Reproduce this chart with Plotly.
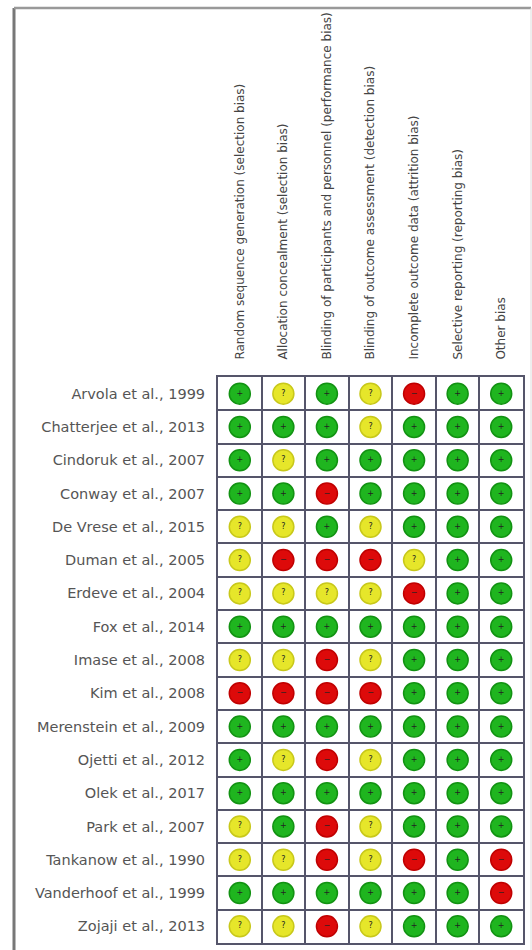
import plotly.graph_objects as go

W, H = 532, 950

domains = [
    "Random sequence generation (selection bias)",
    "Allocation concealment (selection bias)",
    "Blinding of participants and personnel (performance bias)",
    "Blinding of outcome assessment (detection bias)",
    "Incomplete outcome data (attrition bias)",
    "Selective reporting (reporting bias)",
    "Other bias",
]

studies = [
    "Arvola et al., 1999",
    "Chatterjee et al., 2013",
    "Cindoruk et al., 2007",
    "Conway et al., 2007",
    "De Vrese et al., 2015",
    "Duman et al., 2005",
    "Erdeve et al., 2004",
    "Fox et al., 2014",
    "Imase et al., 2008",
    "Kim et al., 2008",
    "Merenstein et al., 2009",
    "Ojetti et al., 2012",
    "Olek et al., 2017",
    "Park et al., 2007",
    "Tankanow et al., 1990",
    "Vanderhoof et al., 1999",
    "Zojaji et al., 2013",
]

# L = low risk (+), U = unclear (?), H = high risk (-)
judgements = [
    "LULUHLL",
    "LLLULLL",
    "LULLLLL",
    "LLHLLLL",
    "UULULLL",
    "UHHHULL",
    "UUUUHLL",
    "LLLLLLL",
    "UUHULLL",
    "HHHHLLL",
    "LLLLLLL",
    "LUHULLL",
    "LLLLLLL",
    "ULHULLL",
    "UUHUHLH",
    "LLLLLLH",
    "UUHULLL",
]

colors = {"L": "#1fb51f", "U": "#e6e62a", "H": "#dd0a0a"}
edges = {"L": "#129212", "U": "#c8c81a", "H": "#c00000"}
symbols = {"L": "+", "U": "?", "H": "\u2212"}

fig = go.Figure()
for level in ["L", "U", "H"]:
    xs, ys, ts = [], [], []
    for i, row in enumerate(judgements):
        for j, v in enumerate(row):
            if v == level:
                xs.append(j)
                ys.append(i)
                ts.append(symbols[v])
    fig.add_trace(go.Scatter(
        x=xs, y=ys, mode="markers+text", text=ts,
        textposition="middle center",
        textfont=dict(size=8, color="#222", family="DejaVu Sans"),
        marker=dict(size=21, color=colors[level],
                    line=dict(color=edges[level], width=1.5)),
        showlegend=False, hoverinfo="skip",
    ))

x0, x1 = 218, 523
y0, y1 = 377, 943

fig.update_layout(
    width=W, height=H,
    margin=dict(l=0, r=0, t=0, b=0),
    paper_bgcolor="white", plot_bgcolor="white",
    font=dict(family="DejaVu Sans", color="#444"),
    xaxis=dict(
        domain=[x0 / W, x1 / W], range=[-0.5, 6.5], side="top",
        tickmode="array", tickvals=list(range(len(domains))), ticktext=domains,
        tickangle=-90, tickfont=dict(size=12, color="#444"),
        ticks="outside", ticklen=13, tickcolor="rgba(0,0,0,0)",
        showgrid=False, zeroline=False,
        showline=True, mirror=True, linecolor="#55556a", linewidth=2,
        minor=dict(tickmode="linear", tick0=0.5, dtick=1, showgrid=True,
                   gridcolor="#55556a", gridwidth=1.5, ticks=""),
        fixedrange=True,
    ),
    yaxis=dict(
        domain=[1 - y1 / H, 1 - y0 / H], range=[len(studies) - 0.5, -0.5],
        tickmode="array", tickvals=list(range(len(studies))), ticktext=studies,
        tickfont=dict(size=14.5, color="#555"),
        ticks="outside", ticklen=8, tickcolor="rgba(0,0,0,0)",
        showgrid=False, zeroline=False,
        showline=True, mirror=True, linecolor="#55556a", linewidth=2,
        minor=dict(tickmode="linear", tick0=0.5, dtick=1, showgrid=True,
                   gridcolor="#55556a", gridwidth=1.5, ticks=""),
        fixedrange=True,
    ),
    shapes=[
        dict(type="line", xref="paper", yref="paper",
             x0=14 / W, x1=14 / W, y0=0, y1=1 - 8 / H,
             line=dict(color="#777", width=3)),
        dict(type="line", xref="paper", yref="paper",
             x0=14 / W, x1=531 / W, y0=1 - 8 / H, y1=1 - 8 / H,
             line=dict(color="#999", width=2.5)),
        dict(type="line", xref="paper", yref="paper",
             x0=531 / W, x1=531 / W, y0=0, y1=1 - 8 / H,
             line=dict(color="#ddd", width=1)),
    ],
)

fig.write_html("out.html")
